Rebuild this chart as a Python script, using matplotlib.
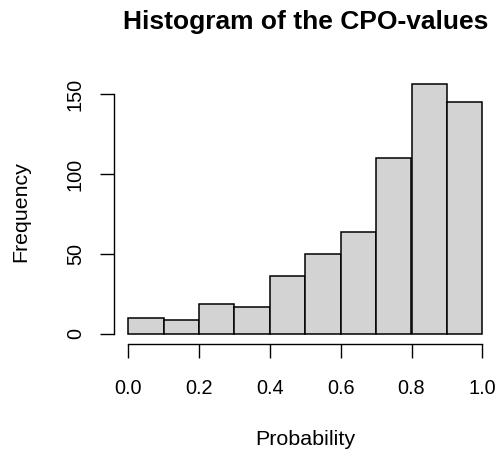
import matplotlib
matplotlib.use("Agg")
import matplotlib.pyplot as plt
import numpy as np

bin_edges = [0.0, 0.1, 0.2, 0.3, 0.4, 0.5, 0.6, 0.7, 0.8, 0.9, 1.0]
counts = [10, 9, 19, 17, 36, 50, 64, 110, 156, 145]
x_ticks = [0.0, 0.2, 0.4, 0.6, 0.8, 1.0]
x_tick_labels = ["0.0", "0.2", "0.4", "0.6", "0.8", "1.0"]
y_ticks = [0, 50, 100, 150]
title = "Histogram of the CPO-values"
xlabel = "Probability"
ylabel = "Frequency"

plt.rcParams['font.family'] = ['Liberation Sans', 'DejaVu Sans']

fig = plt.figure(figsize=(5.0, 4.57), dpi=100)
ax = fig.add_axes([0.228, 0.2473, 0.765, 0.590])

lefts = bin_edges[:-1]
widths = np.diff(bin_edges)
ax.bar(lefts, counts, width=widths, align='edge', color='#D3D3D3',
       edgecolor='black', linewidth=1.1)

ymax = max(counts)
ax.set_xlim(-0.04, 1.04)
ax.set_ylim(-0.04 * ymax, 1.04 * ymax)

for s in ['top', 'right']:
    ax.spines[s].set_visible(False)
ax.spines['bottom'].set_bounds(x_ticks[0], x_ticks[-1])
ax.spines['left'].set_bounds(y_ticks[0], y_ticks[-1])
for s in ['bottom', 'left']:
    ax.spines[s].set_linewidth(1.0)

ax.set_xticks(x_ticks)
ax.set_xticklabels(x_tick_labels)
ax.set_yticks(y_ticks)
ax.set_yticklabels([str(v) for v in y_ticks], rotation=90, va='center')
ax.tick_params(axis='both', length=10, width=1.0, labelsize=14.3, colors='black')
ax.tick_params(axis='x', pad=15)
ax.tick_params(axis='y', pad=11)

# layout: axes spans 114..496.5 px horizontally, 74.2..344 px vertically
ax_h = 0.590 * 457
ax.set_title(title, fontsize=19, fontweight='bold', pad=0,
             y=(344 - 22) / ax_h, va='center')
ax.set_xlabel(xlabel, fontsize=15.4)
ax.xaxis.set_label_coords(0.5, (344 - 440) / ax_h)
ax.xaxis.label.set_va('center')
ax.set_ylabel(ylabel, fontsize=15.4)
ax.yaxis.set_label_coords((21 - 114) / 382.5, 0.49)
ax.yaxis.label.set_va('center')

fig.savefig("out.png", dpi=100)
